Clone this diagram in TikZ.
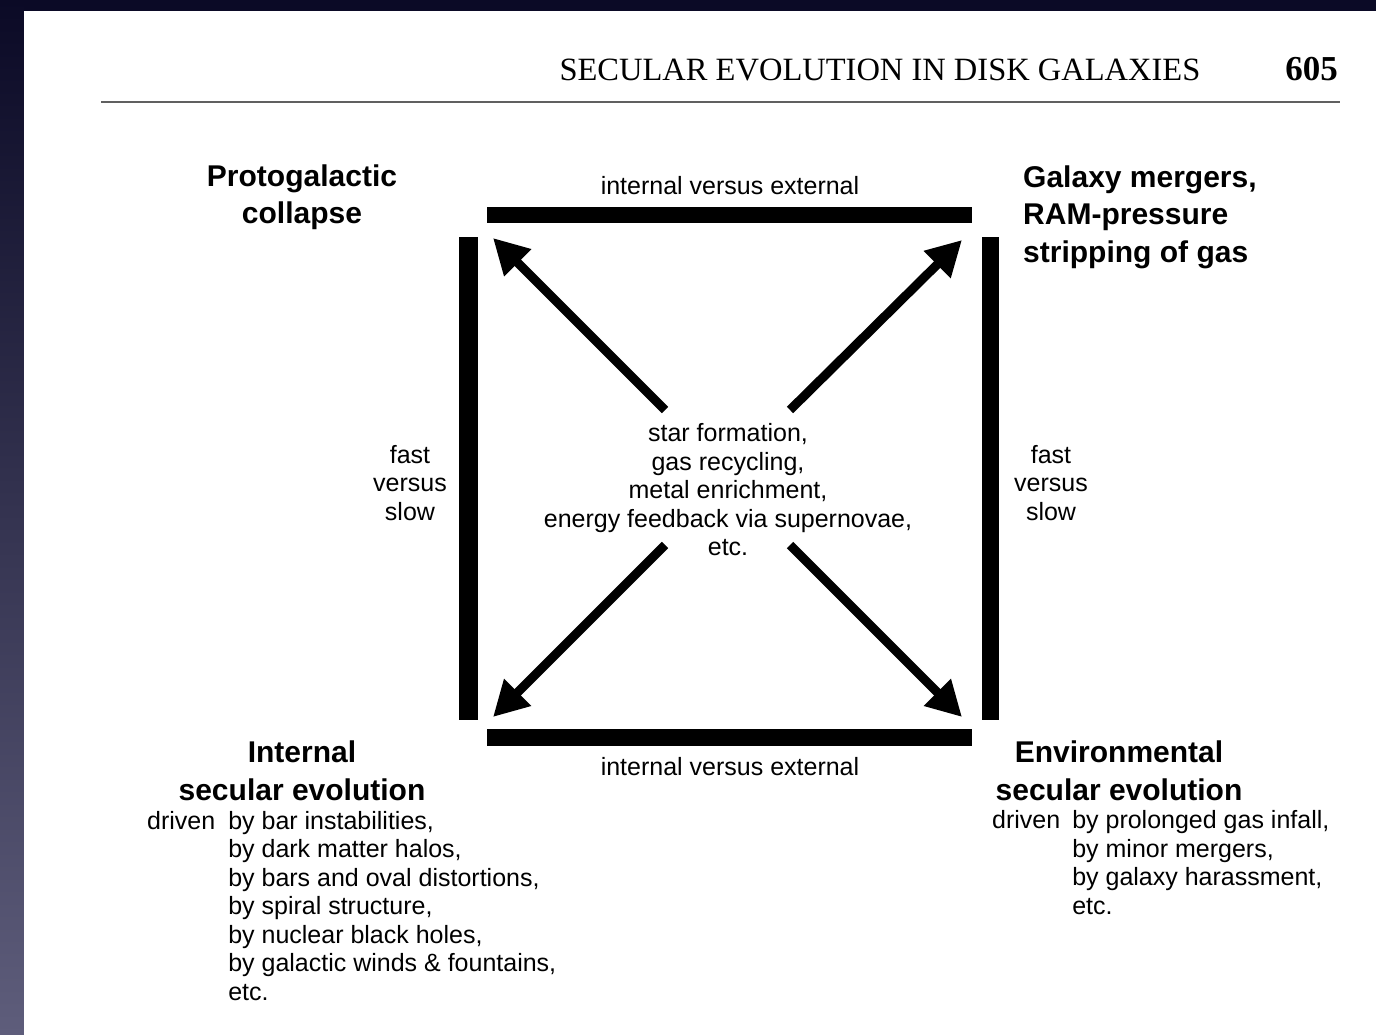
\documentclass[tikz,border=0pt]{standalone}
\usepackage{fontspec}
\setmainfont{Liberation Serif}
\setsansfont{Liberation Sans}
\usetikzlibrary{arrows.meta}
\definecolor{bgdark}{HTML}{0B0A26}
\definecolor{bglight}{HTML}{5E5D7B}
\definecolor{rulegray}{HTML}{606060}
\begin{document}
\begin{tikzpicture}[x=1pt,y=-1pt,
  small/.style={font=\sffamily\fontsize{25}{28.5}\selectfont, inner sep=0pt, align=center},
  headtxt/.style={font=\sffamily\bfseries\fontsize{30}{37.5}\selectfont, inner sep=0pt, align=center},
  barfill/.style={fill=black},
  arr/.style={line width=9pt, -{Triangle[length=35pt,width=36pt]}}]
\useasboundingbox (0,0) rectangle (1376,1035);
% background
\fill[bgdark] (0,0) rectangle (1376,1035);
\shade[top color=bgdark, bottom color=bglight] (0,0) rectangle (24,1035);
\fill[white] (24,11) rectangle (1376,1035);
% running head
\node[anchor=base, inner sep=0pt, font=\rmfamily\fontsize{32.5}{36}\selectfont] (hdr) at (880,81) {SECULAR EVOLUTION IN DISK GALAXIES};
\node[anchor=base east, inner sep=0pt, font=\rmfamily\bfseries\fontsize{35}{38}\selectfont] (pg) at (1338,81) {605};
\draw[rulegray, line width=2.5pt] (101,102) -- (1340,102);
% bars
\fill[barfill] (487,207) rectangle (972,223);
\fill[barfill] (459,237) rectangle (478,720);
\fill[barfill] (982,237) rectangle (999,720);
\fill[barfill] (487,729) rectangle (972,746);
% small labels
\node[small] (topl) at (730,186) {internal versus external};
\node[small] (botl) at (730,767) {internal versus external};
\node[small] (fsl) at (410,483) {fast\\versus\\slow};
\node[small] (fsr) at (1051,483) {fast\\versus\\slow};
\node[small] (ctr) at (728,490) {star formation,\\gas recycling,\\metal enrichment,\\energy feedback via supernovae,\\etc.};
% corner headings
\node[headtxt] (proto) at (302,197) {Protogalactic\\collapse};
\node[headtxt, align=left, anchor=west] (merge) at (1023,217) {Galaxy mergers,\\RAM-pressure\\stripping of gas};
\node[headtxt] (intl) at (302,771) {Internal\\secular evolution};
\node[headtxt] (env) at (1119,771) {Environmental\\secular evolution};
% lists
\node[small, anchor=west] (intlist) at (147,909) {\begin{tabular}{@{}l@{\hspace{13pt}}l@{}}
driven & by bar instabilities,\\
 & by dark matter halos,\\
 & by bars and oval distortions,\\
 & by spiral structure,\\
 & by nuclear black holes,\\
 & by galactic winds \& fountains,\\
 & etc.
\end{tabular}};
\node[small, anchor=west] (envlist) at (992,866) {\begin{tabular}{@{}l@{\hspace{12pt}}l@{}}
driven & by prolonged gas infall,\\
 & by minor mergers,\\
 & by galaxy harassment,\\
 & etc.
\end{tabular}};
% arrows
\coordinate (nwt) at (665,410); \coordinate (nwh) at (493,238);
\coordinate (net) at (790,410); \coordinate (neh) at (962,240);
\coordinate (swt) at (665,545); \coordinate (swh) at (493,717);
\coordinate (set) at (790,545); \coordinate (seh) at (962,717);
\draw[arr] (nwt) -- (nwh);
\draw[arr] (net) -- (neh);
\draw[arr] (swt) -- (swh);
\draw[arr] (set) -- (seh);
\end{tikzpicture}
\end{document}
